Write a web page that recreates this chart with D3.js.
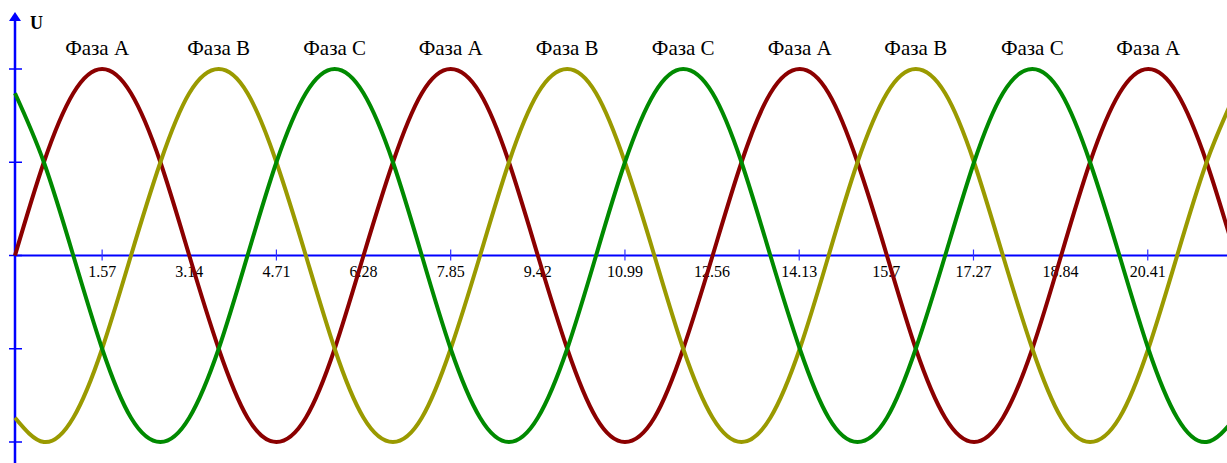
<!DOCTYPE html>
<html>
<head>
<meta charset="utf-8">
<script src="https://cdn.jsdelivr.net/npm/d3@7"></script>
<style>
html,body{margin:0;padding:0;background:#fff;overflow:hidden}
svg{display:block}
text{font-family:"Liberation Serif","Times New Roman",serif}
</style>
</head>
<body>
<svg width="1227" height="463"></svg>
<script>
// ===== DATA =====
// sample points every 30 degrees (radians)
const xs = [0,0.52,1.05,1.57,2.09,2.62,3.14,3.67,4.19,4.71,5.24,5.76,6.28,6.81,7.33,7.85,8.38,8.90,9.42,9.95,10.47,10.99,11.52,12.04,12.57,13.09,13.61,14.14,14.66,15.18,15.71,16.23,16.76,17.28,17.80,18.33,18.85,19.37,19.90,20.42,20.94,21.47,21.99]

const phaseA = [0,0.5,0.87,1,0.87,0.5,0,-0.5,-0.87,-1,-0.87,-0.5,0,0.5,0.87,1,0.87,0.5,0,-0.5,-0.87,-1,-0.87,-0.5,0,0.5,0.87,1,0.87,0.5,0,-0.5,-0.87,-1,-0.87,-0.5,0,0.5,0.87,1,0.87,0.5,0]
const phaseB = [-0.87,-1,-0.87,-0.5,0,0.5,0.87,1,0.87,0.5,0,-0.5,-0.87,-1,-0.87,-0.5,0,0.5,0.87,1,0.87,0.5,0,-0.5,-0.87,-1,-0.87,-0.5,0,0.5,0.87,1,0.87,0.5,0,-0.5,-0.87,-1,-0.87,-0.5,0,0.5,0.87]
const phaseC = [0.87,0.5,0,-0.5,-0.87,-1,-0.87,-0.5,0,0.5,0.87,1,0.87,0.5,0,-0.5,-0.87,-1,-0.87,-0.5,0,0.5,0.87,1,0.87,0.5,0,-0.5,-0.87,-1,-0.87,-0.5,0,0.5,0.87,1,0.87,0.5,0,-0.5,-0.87,-1,-0.87]

const tickValues = [1.57,3.14,4.71,6.28,7.85,9.42,10.99,12.56,14.13,15.7,17.27,18.84,20.41]
const tickLabels = ["1.57","3.14","4.71","6.28","7.85","9.42","10.99","12.56","14.13","15.7","17.27","18.84","20.41"]
const tickMarks = [1.57,4.71,7.85,10.99,14.13,17.27,20.41]
const yTicks = [-1,-0.5,0,0.5,1]

const phaseLabels = ["Фаза A","Фаза B","Фаза C","Фаза A","Фаза B","Фаза C","Фаза A","Фаза B","Фаза C","Фаза A"]
const phaseLabelX = [1.48,3.67,5.76,7.85,9.95,12.04,14.14,16.23,18.33,20.42]

const series = [
  {name:"A", values:phaseA, color:"#8b0000"},
  {name:"B", values:phaseB, color:"#9a9a00"},
  {name:"C", values:phaseC, color:"#008a00"}
]

// ===== SCALES =====
const svg = d3.select("svg")

const x = d3.scaleLinear()
.domain([0,1])
.range([15,70.5])

const y = d3.scaleLinear()
.domain([-1,1])
.range([442,69])

// ===== AXES =====
svg.append("line")
.attr("x1",x(0)).attr("x2",1227)
.attr("y1",y(0)).attr("y2",y(0))
.attr("stroke","#0000ff")
.attr("stroke-width",2.2)

svg.append("line")
.attr("x1",x(0)).attr("x2",x(0))
.attr("y1",18).attr("y2",463)
.attr("stroke","#0000ff")
.attr("stroke-width",2.5)

svg.append("path")
.attr("d",`M${x(0)},12 L${x(0)-6},21 L${x(0)+6},21 Z`)
.attr("fill","#0000ff")

svg.selectAll(".ytick")
.data(yTicks)
.enter()
.append("line")
.attr("x1",x(0)-6).attr("x2",x(0)+7)
.attr("y1",d=>y(d)).attr("y2",d=>y(d))
.attr("stroke","#0000ff")
.attr("stroke-width",1.5)

svg.selectAll(".xtick")
.data(tickMarks)
.enter()
.append("line")
.attr("x1",d=>x(d)).attr("x2",d=>x(d))
.attr("y1",y(0)-6).attr("y2",y(0)+5)
.attr("stroke","#3030ff")
.attr("stroke-width",1.2)

svg.selectAll(".xlabel")
.data(tickValues)
.enter()
.append("text")
.attr("x",d=>x(d))
.attr("y",277)
.attr("text-anchor","middle")
.attr("font-size",16)
.attr("fill","#000")
.text((d,i)=>tickLabels[i])

svg.append("text")
.attr("x",30)
.attr("y",29)
.attr("font-size",18)
.attr("font-weight","bold")
.text("U")

// ===== CURVES =====
const line = d3.line()
.x((d,i)=>x(xs[i]))
.y(d=>y(d))
.curve(d3.curveNatural)

svg.selectAll(".phase")
.data(series)
.enter()
.append("path")
.attr("fill","none")
.attr("stroke",d=>d.color)
.attr("stroke-width",4)
.attr("d",d=>line(d.values))

// ===== LABELS =====
svg.selectAll(".plabel")
.data(phaseLabels)
.enter()
.append("text")
.attr("x",(d,i)=>x(phaseLabelX[i]))
.attr("y",55)
.attr("text-anchor","middle")
.attr("font-size",21)
.text(d=>d)
</script>
</body>
</html>
